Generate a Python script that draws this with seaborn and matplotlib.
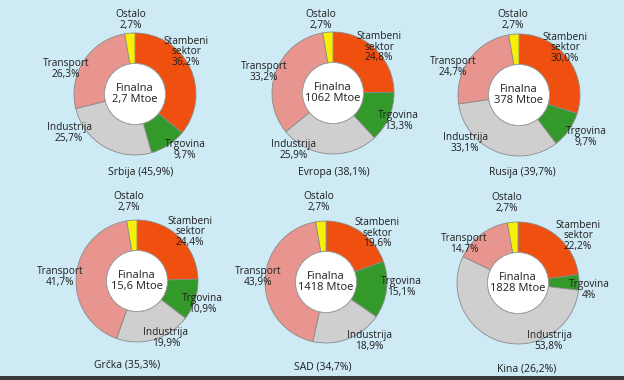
import matplotlib
matplotlib.use("Agg")
import matplotlib.pyplot as plt
from matplotlib.patches import Circle, Rectangle
import seaborn as sns

# ---- data ----
sectors = ["Stambeni\nsektor", "Trgovina", "Industrija", "Transport", "Ostalo"]
countries = ["Srbija (45,9%)", "Evropa (38,1%)", "Rusija (39,7%)",
             "Grčka (35,3%)", "SAD (34,7%)", "Kina (26,2%)"]
totals = ["2,7 Mtoe", "1062 Mtoe", "378 Mtoe", "15,6 Mtoe", "1418 Mtoe", "1828 Mtoe"]
srbija = [36.2, 9.7, 25.7, 26.3, 2.7]
evropa = [24.8, 13.3, 25.9, 33.2, 2.7]
rusija = [30.0, 9.7, 33.1, 24.7, 2.7]
grcka = [24.4, 10.9, 19.9, 41.7, 2.7]
sad = [19.6, 15.1, 18.9, 43.9, 2.7]
kina = [22.2, 4.0, 53.8, 14.7, 2.7]
values = [srbija, evropa, rusija, grcka, sad, kina]
pct_labels = [
    ["36,2%", "9,7%", "25,7%", "26,3%", "2,7%"],
    ["24,8%", "13,3%", "25,9%", "33,2%", "2,7%"],
    ["30,0%", "9,7%", "33,1%", "24,7%", "2,7%"],
    ["24,4%", "10,9%", "19,9%", "41,7%", "2,7%"],
    ["19,6%", "15,1%", "18,9%", "43,9%", "2,7%"],
    ["22,2%", "4%", "53,8%", "14,7%", "2,7%"],
]

# ---- layout (pixel positions, y from top) ----
centers = [(135, 94), (333, 93), (519, 95), (137, 281), (326, 282), (518, 283)]
radius = 61
label_pos = [
    [(186, 52), (185, 150), (69, 133), (66, 69), (131, 20)],
    [(379, 47), (398, 121), (294, 150), (264, 72), (321, 20)],
    [(565, 48), (586, 137), (465, 143), (453, 67), (513, 20)],
    [(190, 232), (202, 304), (166, 338), (60, 277), (129, 202)],
    [(377, 233), (401, 287), (369, 341), (258, 277), (319, 202)],
    [(578, 236), (589, 290), (549, 341), (464, 244), (507, 203)],
]
country_pos = [(141, 173), (334, 173), (522, 173), (127, 365), (323, 367), (527, 369)]

W, H = 624, 380
sns.set_theme(style="white")
plt.rcParams['font.family'] = ['Open Sans', 'DejaVu Sans']
colors = sns.color_palette(["#f0500f", "#33992a", "#cfcfcf", "#e8958f", "#f7ef05"])
bg = "#cdeaf5"
txt = "#1e1e1e"

fig = plt.figure(figsize=(W / 100, H / 100), dpi=100, facecolor=bg)
ax = fig.add_axes([0, 0, 1, 1])
ax.set_facecolor(bg)

for i, vals in enumerate(values):
    cx, cy = centers[i]
    c = (cx, H - cy)
    ax.pie(vals, colors=colors, startangle=90, counterclock=False,
           center=c, radius=radius,
           wedgeprops=dict(width=radius * 0.5, edgecolor="#8a8a8a", linewidth=0.6))
    ax.add_patch(Circle(c, radius * 0.5, facecolor="white", edgecolor="#9a9a9a",
                        linewidth=0.6, zorder=3))
    ax.text(c[0], c[1], "Finalna\n" + totals[i], ha="center", va="center",
            fontsize=8, color=txt, linespacing=1.05, zorder=4)
    for j, name in enumerate(sectors):
        lx, ly = label_pos[i][j]
        ax.text(lx, H - ly, name + "\n" + pct_labels[i][j], ha="center", va="center",
                fontsize=7.3, color=txt, linespacing=0.95, zorder=5)
    px, py = country_pos[i]
    ax.text(px, H - py, countries[i], ha="center", va="center",
            fontsize=7.5, color=txt, zorder=5)

# dark scan edge at the bottom
ax.add_patch(Rectangle((0, 0), W, 4, facecolor="#3a3a3a", edgecolor="none", zorder=1))

ax.set_xlim(0, W)
ax.set_ylim(0, H)
ax.set_aspect("auto")
ax.axis("off")
fig.savefig("out.png", dpi=100, facecolor=bg)
